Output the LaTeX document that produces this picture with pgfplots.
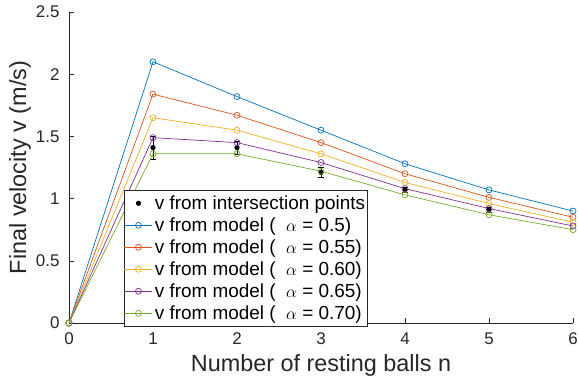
\documentclass[border=0pt]{standalone}
\usepackage{pgfplots}
\pgfplotsset{compat=1.18}
\usepackage{fontspec}
\setmainfont{Liberation Sans}
\definecolor{c1}{rgb}{0,0.447,0.741}
\definecolor{c2}{rgb}{0.850,0.325,0.098}
\definecolor{c3}{rgb}{0.929,0.694,0.125}
\definecolor{c4}{rgb}{0.494,0.184,0.556}
\definecolor{c5}{rgb}{0.466,0.674,0.188}
\definecolor{axc}{rgb}{0.15,0.15,0.15}
\begin{document}
\begin{tikzpicture}
\useasboundingbox (-69bp,-59bp) rectangle (509bp,323bp);
\begin{axis}[
  at={(0,0)}, anchor=south west,
  scale only axis, width=504bp, height=311bp,
  xmin=0, xmax=6, ymin=0, ymax=2.5,
  xtick={0,1,2,3,4,5,6}, ytick={0,0.5,1,1.5,2,2.5},
  axis x line*=bottom, axis y line*=left,
  axis line style={axc, line width=0.6pt},
  tick style={axc, line width=0.6pt},
  tick align=inside, major tick length=5bp,
  /pgf/number format/assume math mode=true,
  ticklabel style={font=\fontsize{17}{20}\selectfont, text=axc},
  yticklabel style={xshift=-6bp},
  xticklabel style={yshift=-6bp},
  xlabel={Number of resting balls n}, ylabel={Final velocity v (m/s)},
  label style={font=\fontsize{23.5}{27}\selectfont, text=axc},
  xlabel style={at={(rel axis cs:0.5,0)}, anchor=center, yshift=-42bp},
  ylabel style={at={(rel axis cs:0,0.5)}, anchor=center, yshift=49bp},
  legend style={at={(0.109,0.4277)}, anchor=north west, draw=axc, fill=white,
    font=\fontsize{19}{22}\selectfont, row sep=2.8bp, inner xsep=0bp, inner ysep=3.5bp,
    cells={anchor=west}},
  legend cell align=left,
  every axis plot/.append style={line width=0.7pt},
  mylegend/.style={legend image code/.code={\draw[mark repeat=2,mark phase=2,##1] plot coordinates {(3bp,0bp) (17bp,0bp) (31bp,0bp)};}},
]
\addplot[only marks, mark=*, mark size=2.2bp, black,
  legend image code/.code={\fill[black] (17bp,0bp) circle (2.2bp); \path (31bp,0bp);},
  error bars/.cd, y dir=both, y explicit, error bar style={black, line width=0.6pt},
  error mark options={rotate=90, mark size=3bp, black}]
  coordinates {(1,1.41) +- (0,0.09) (2,1.41) +- (0,0.055) (3,1.21) +- (0,0.04) (4,1.07) +- (0,0.02) (5,0.91) +- (0,0.02)};
\addlegendentry{v from intersection points}
\addplot[c1, mark=o, mark size=3bp, mylegend] coordinates {(0,0) (1,2.10) (2,1.82) (3,1.55) (4,1.28) (5,1.07) (6,0.90)};
\addlegendentry{v from model (\hspace{0.55em}$\alpha$ = 0.5)}
\addplot[c2, mark=o, mark size=3bp, mylegend] coordinates {(0,0) (1,1.84) (2,1.67) (3,1.45) (4,1.20) (5,1.01) (6,0.85)};
\addlegendentry{v from model (\hspace{0.55em}$\alpha$ = 0.55)}
\addplot[c3, mark=o, mark size=3bp, mylegend] coordinates {(0,0) (1,1.65) (2,1.55) (3,1.36) (4,1.13) (5,0.96) (6,0.81)};
\addlegendentry{v from model (\hspace{0.55em}$\alpha$ = 0.60)}
\addplot[c4, mark=o, mark size=3bp, mylegend] coordinates {(0,0) (1,1.49) (2,1.45) (3,1.29) (4,1.08) (5,0.92) (6,0.78)};
\addlegendentry{v from model (\hspace{0.55em}$\alpha$ = 0.65)}
\addplot[c5, mark=o, mark size=3bp, mylegend] coordinates {(0,0) (1,1.36) (2,1.36) (3,1.22) (4,1.03) (5,0.87) (6,0.75)};
\addlegendentry{v from model (\hspace{0.55em}$\alpha$ = 0.70)}
\end{axis}
\end{tikzpicture}
\end{document}
